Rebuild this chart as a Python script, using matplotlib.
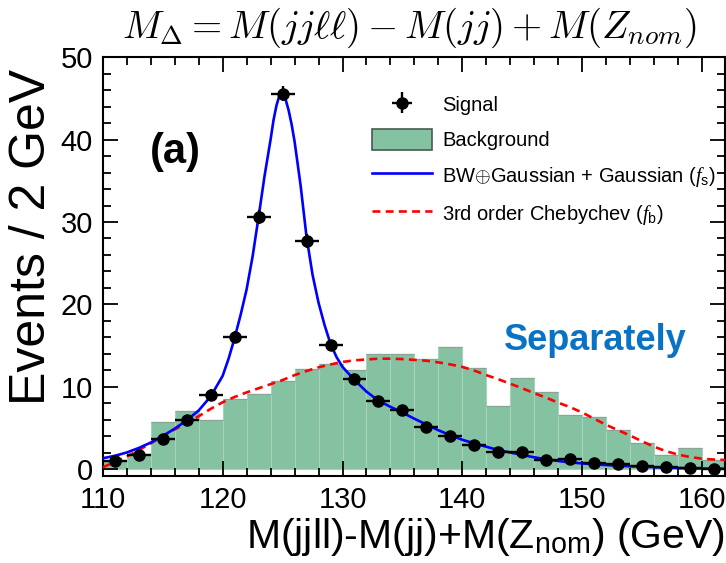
import matplotlib
matplotlib.use("Agg")
import matplotlib.pyplot as plt
import numpy as np
from matplotlib.ticker import MultipleLocator
from matplotlib.patches import Patch

# ---------------- data ----------------
bin_edges = [110, 112, 114, 116, 118, 120, 122, 124, 126, 128, 130, 132, 134, 136,
             138, 140, 142, 144, 146, 148, 150, 152, 154, 156, 158, 160, 162]
background = [1.0, 1.8, 5.7, 7.0, 5.9, 8.5, 9.1, 10.7, 12.2, 12.7, 12.05, 14.0, 14.0,
              13.3, 14.85, 12.3, 7.7, 11.0, 9.4, 6.6, 6.3, 4.7, 3.2, 1.7, 2.5, 1.1]

signal_x = [111, 113, 115, 117, 119, 121, 123, 125, 127, 129, 131, 133, 135, 137,
            139, 141, 143, 145, 147, 149, 151, 153, 155, 157, 159, 161]
signal_y = [0.93, 1.74, 3.7, 5.9, 9.0, 16.0, 30.6, 45.6, 27.7, 15.0, 10.96, 8.2, 7.2,
            5.06, 4.05, 2.9, 2.1, 2.1, 1.1, 1.2, 0.7, 0.6, 0.4, 0.2, 0.15, 0.05]
signal_yerr = [0.3, 0.4, 0.5, 0.6, 0.7, 0.7, 0.8, 0.9, 0.8, 0.7, 0.6, 0.5, 0.5, 0.4,
               0.4, 0.3, 0.3, 0.3, 0.2, 0.2, 0.2, 0.2, 0.1, 0.1, 0.1, 0.1]
signal_xerr = [1.0] * len(signal_x)

sig_fit_x = [110, 111, 112, 113, 114, 115, 116, 117, 118, 119, 120, 120.5, 121, 121.5,
             122, 122.5, 123, 123.5, 124, 124.25, 124.5, 124.75, 125, 125.25, 125.5,
             125.75, 126, 126.5, 127, 127.5, 128, 128.5, 129, 129.5, 130, 131, 132, 133,
             134, 135, 136, 137, 138, 139, 140, 141, 142, 143, 144, 145, 146, 147, 148,
             149, 150, 151, 152, 153, 154, 155, 156, 157, 158, 159, 160, 161, 162]
sig_fit_y = [1.3, 1.6, 2.0, 2.55, 3.2, 4.0, 4.9, 5.9, 7.1, 8.8, 11.3, 13.4, 15.9, 18.7,
             21.8, 25.8, 30.6, 35.6, 40.0, 42.4, 44.2, 45.4, 45.5, 44.9, 43.6, 41.9,
             39.8, 34.5, 28.2, 23.6, 20.2, 17.5, 15.2, 13.6, 12.4, 10.8, 9.4, 8.3, 7.55,
             6.85, 6.1, 5.4, 4.7, 4.1, 3.55, 3.1, 2.7, 2.3, 2.0, 1.7, 1.42, 1.17, 0.97,
             0.8, 0.68, 0.57, 0.48, 0.4, 0.33, 0.28, 0.22, 0.16, 0.12, 0.08, 0.06, 0.04,
             0.03]

bkg_fit_x = list(range(110, 163))
bkg_fit_y = [0.2, 0.85, 1.5, 2.3, 3.1, 4.0, 4.8, 5.6, 6.4, 7.3, 8.1, 8.75, 9.3, 9.8,
             10.3, 10.8, 11.4, 11.9, 12.35, 12.7, 13.0, 13.2, 13.3, 13.4, 13.4, 13.35,
             13.25, 13.15, 12.95, 12.7, 12.4, 11.95, 11.4, 10.9, 10.35, 9.8, 9.2, 8.65,
             8.05, 7.5, 6.85, 6.1, 5.35, 4.7, 4.05, 3.35, 2.7, 2.15, 1.75, 1.45, 1.25,
             1.15, 1.1]

# ---------------- style ----------------
plt.rcParams['font.family'] = ['Liberation Sans', 'DejaVu Sans']
plt.rcParams['mathtext.fontset'] = 'custom'
plt.rcParams['mathtext.rm'] = 'Liberation Sans'
plt.rcParams['mathtext.it'] = 'Liberation Serif:italic'
plt.rcParams['mathtext.bf'] = 'Liberation Sans:bold'

fig = plt.figure(figsize=(7.26, 5.63), dpi=100)
W, H = 726, 563
ax_l, ax_r, ax_t, ax_b = 102.7, 725.0, 57.3, 476.0
ax = fig.add_axes([ax_l / W, 1 - ax_b / H, (ax_r - ax_l) / W, (ax_b - ax_t) / H])

green = '#85c2a2'
edges = np.array(bin_edges)
ax.bar(edges[:-1], background, width=np.diff(edges), align='edge', color=green,
       edgecolor='#a3d3b9', linewidth=0.8, zorder=1)
ax.hlines(background, edges[:-1], edges[1:], color='#8aa597', linewidth=0.9, zorder=1.5)

red_line, = ax.plot(bkg_fit_x, bkg_fit_y, color='#ff0000', linestyle=(0, (3.0, 2.0)),
                    linewidth=1.9, zorder=3)
blue_line, = ax.plot(sig_fit_x, sig_fit_y, color='#0000ff', linewidth=1.9, zorder=4,
                     solid_joinstyle='round')
eb = ax.errorbar(signal_x, signal_y, xerr=signal_xerr, yerr=signal_yerr, fmt='o',
                 color='black', markersize=8, elinewidth=1.7, capsize=0, zorder=5)

ax.set_xlim(110, 161.9)
ax.set_ylim(-0.85, 50)

ax.xaxis.set_major_locator(MultipleLocator(10))
ax.xaxis.set_minor_locator(MultipleLocator(2))
ax.yaxis.set_major_locator(MultipleLocator(10))
ax.yaxis.set_minor_locator(MultipleLocator(2))
ax.tick_params(which='both', direction='in', top=True, right=True, width=1.3,
               labelsize=21, colors='black')
ax.tick_params(which='major', length=11, pad=7)
ax.tick_params(which='minor', length=6)
for s in ax.spines.values():
    s.set_linewidth(1.5)

ax.set_ylabel('Events / 2 GeV', fontsize=36)
ax.yaxis.set_label_coords((55 - ax_l) / (ax_r - ax_l), (ax_b - 237) / (ax_b - ax_t))
ax.set_xlabel('M(jjll)-M(jj)+M(Z$_{\\rm nom}$) (GeV)', fontsize=29.5, ha='right', x=1.0,
              labelpad=2)

# legend
handles = [eb,
           Patch(facecolor=green, edgecolor='#4a5a50', linewidth=1.2),
           blue_line, red_line]
labels = ['Signal', 'Background', 'BW$\\oplus$Gaussian + Gaussian ($f_{\\rm s}$)',
          '3rd order Chebychev ($f_{\\rm b}$)']
leg = fig.legend(handles, labels, loc='upper left', bbox_to_anchor=(372 / W, 1 - 94 / H),
                 frameon=False, fontsize=14.5, borderpad=0, borderaxespad=0,
                 handlelength=3.0, handleheight=1.2, handletextpad=0.5,
                 labelspacing=0.7)

ax.text((175 - ax_l) / (ax_r - ax_l), 1 - (152 - ax_t) / (ax_b - ax_t), '(a)',
        transform=ax.transAxes, fontsize=30, fontweight='bold', ha='center', va='center')
ax.text((595 - ax_l) / (ax_r - ax_l), 1 - (340 - ax_t) / (ax_b - ax_t), 'Separately',
        transform=ax.transAxes, fontsize=26, fontweight='bold', color='#0a72c4',
        ha='center', va='center')

fig.text(410 / W, 1 - 28 / H, r'$M_\Delta = M(jj\ell\ell) - M(jj) + M(Z_{nom})$',
         fontsize=28, ha='center', va='center', math_fontfamily='cm')

fig.savefig('out.png', dpi=100)
